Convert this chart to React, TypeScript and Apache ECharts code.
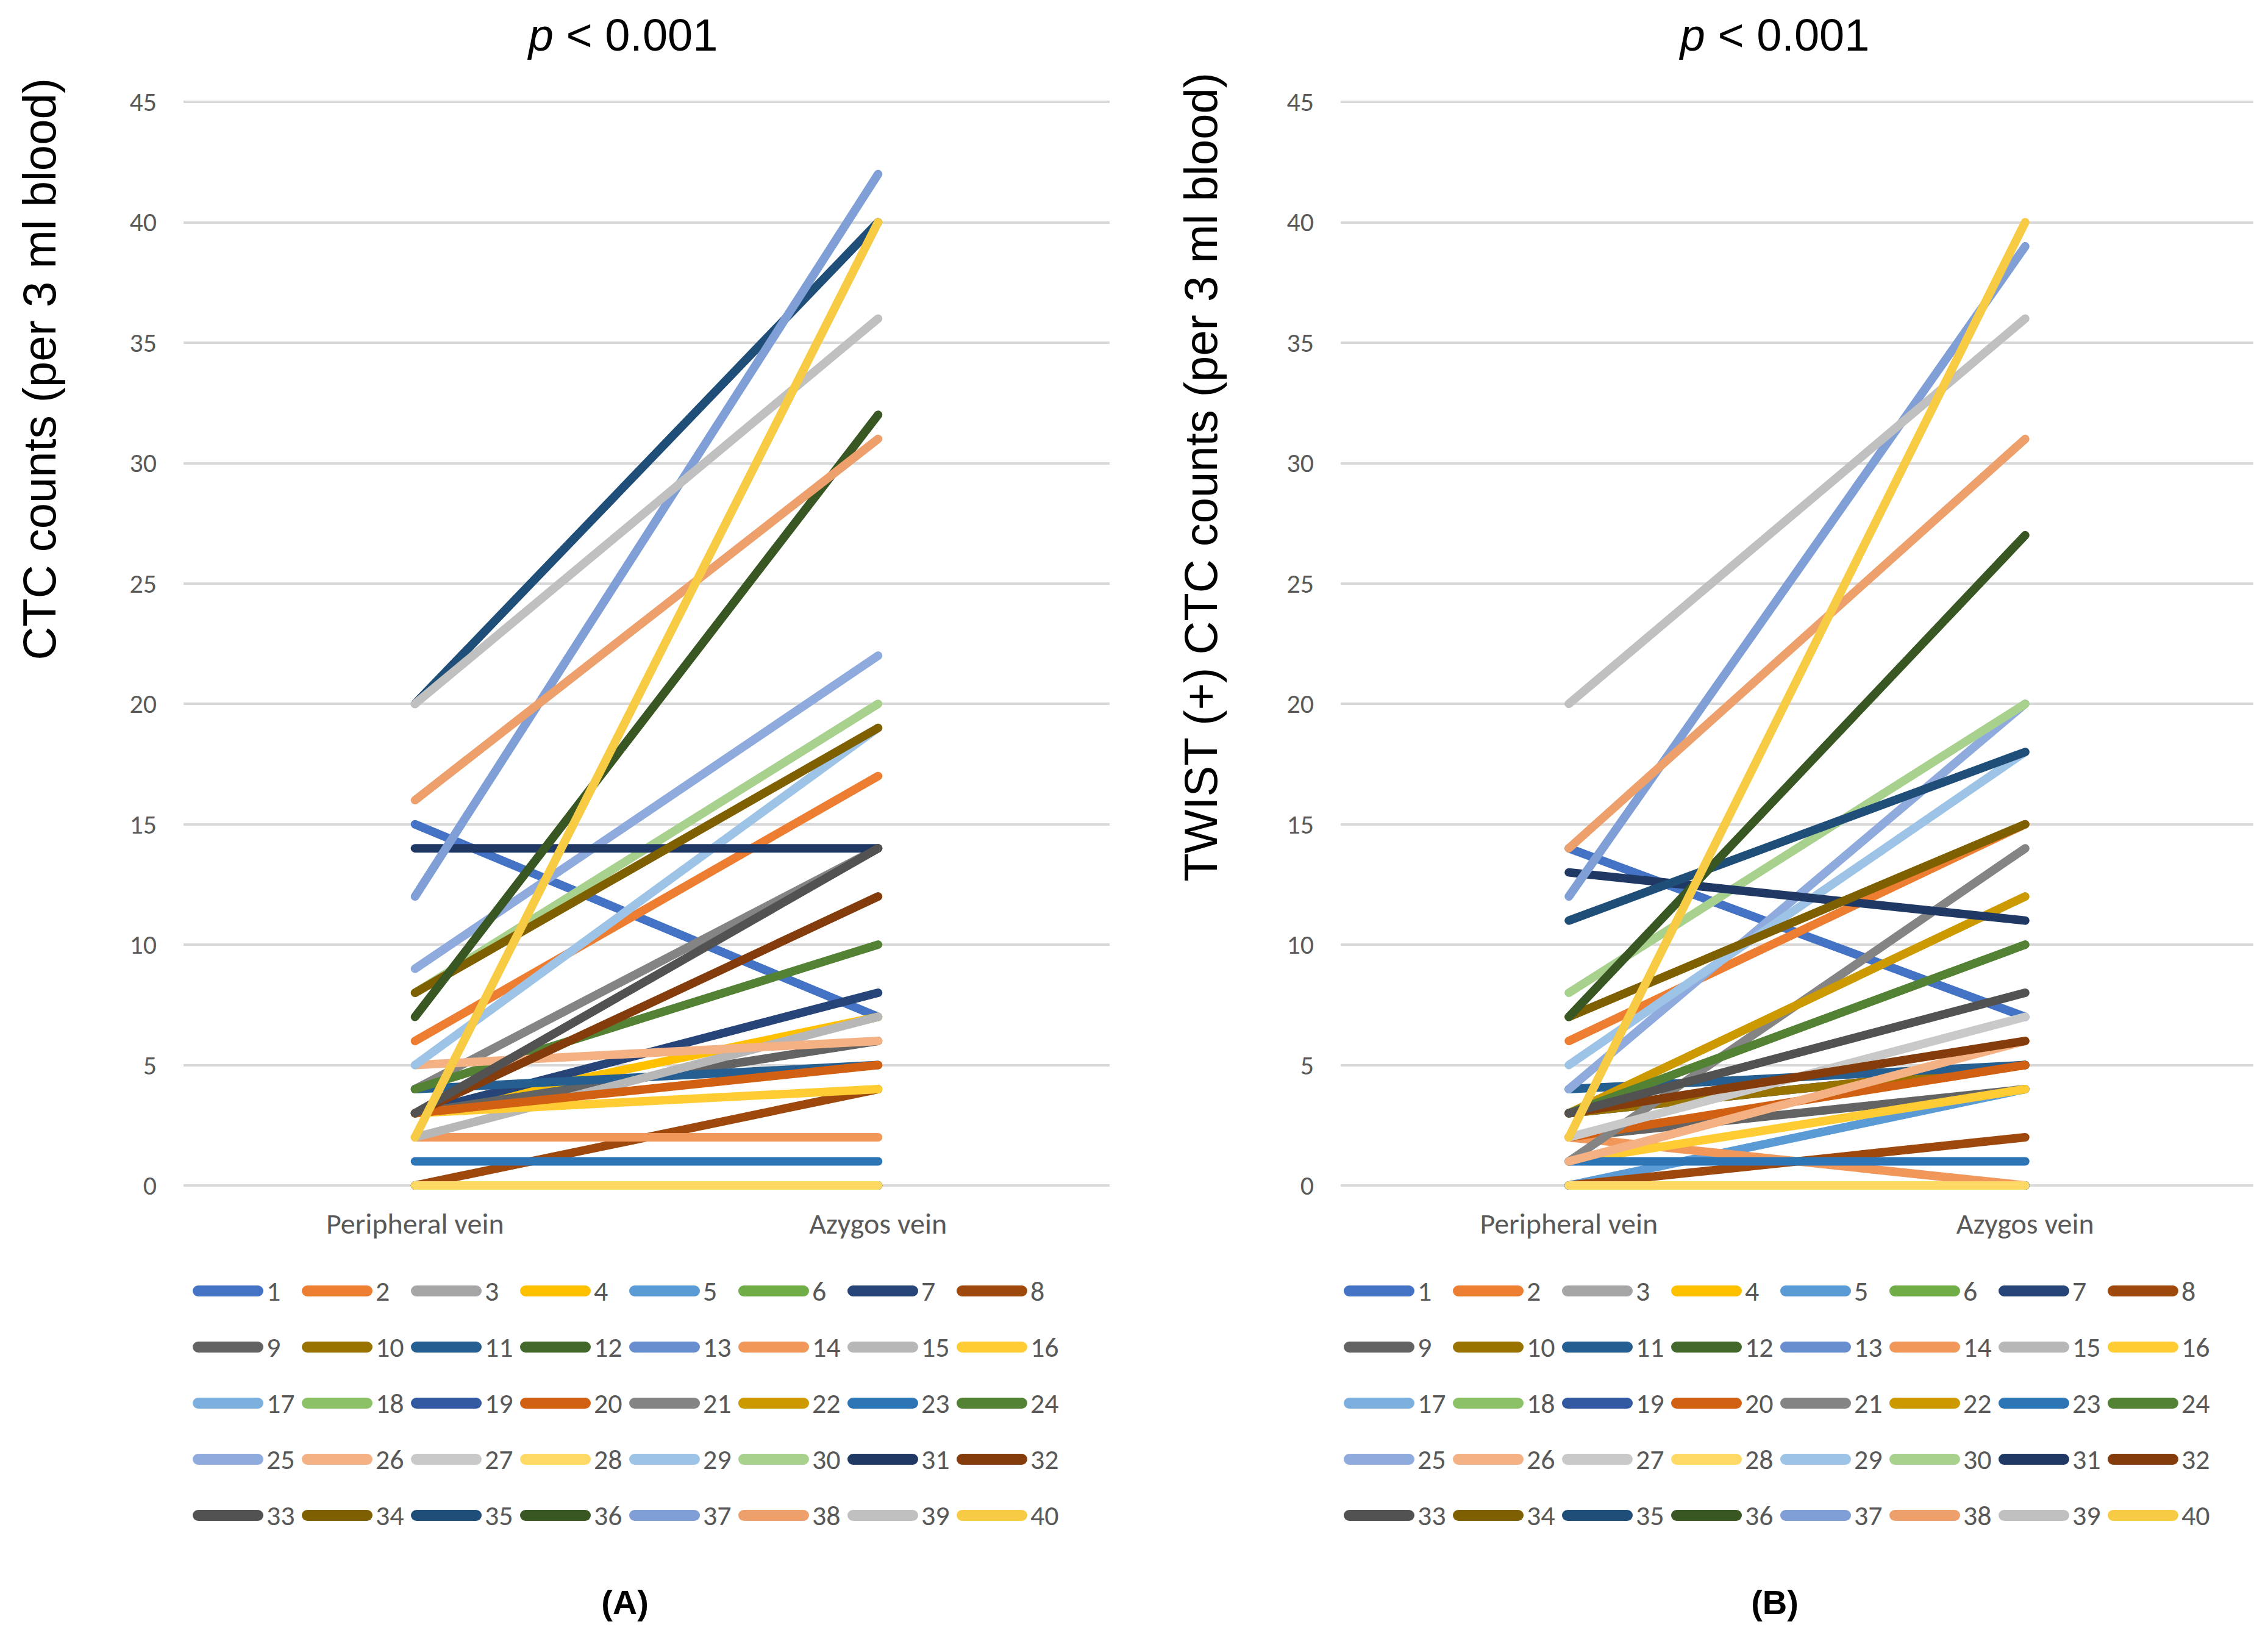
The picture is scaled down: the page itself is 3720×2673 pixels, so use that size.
import React, { useEffect, useRef } from "react";
import * as echarts from "echarts";

const CATEGORIES = ["Peripheral vein", "Azygos vein"];
const PATIENTS = ["1","2","3","4","5","6","7","8","9","10","11","12","13","14","15","16","17","18","19","20","21","22","23","24","25","26","27","28","29","30","31","32","33","34","35","36","37","38","39","40"];
const Y_TICKS = [0, 5, 10, 15, 20, 25, 30, 35, 40, 45];

// Panel A: CTC counts
const peripheralA = [15, 6, 0, 3, 0, 0, 3, 0, 3, 0, 4, 0, 0, 2, 2, 3, 0, 0, 0, 3, 4, 0, 1, 4, 9, 5, 0, 0, 5, 8, 14, 3, 3, 8, 20, 7, 12, 16, 20, 2];
const azygosA = [7, 17, 0, 7, 0, 0, 8, 4, 6, 0, 5, 0, 0, 2, 7, 4, 0, 0, 0, 5, 14, 0, 1, 10, 22, 6, 0, 0, 19, 20, 14, 12, 14, 19, 40, 32, 42, 31, 36, 40];
// Panel B: TWIST (+) CTC counts
const peripheralB = [14, 6, 0, 0, 0, 0, 3, 0, 2, 3, 4, 0, 0, 2, 0, 1, 0, 0, 0, 2, 1, 3, 1, 3, 4, 1, 2, 0, 5, 8, 13, 3, 3, 7, 11, 7, 12, 14, 20, 2];
const azygosB = [7, 15, 0, 0, 4, 0, 5, 2, 4, 5, 5, 0, 0, 0, 0, 4, 0, 0, 0, 5, 14, 12, 1, 10, 20, 6, 7, 0, 18, 20, 11, 6, 8, 15, 18, 27, 39, 31, 36, 40];

const COLORS = [
  "#4472C4", "#ED7D31", "#A5A5A5", "#FFC000", "#5B9BD5", "#70AD47",
  "#264478", "#9E480E", "#636363", "#997300", "#255E91", "#43682B",
  "#698ED0", "#F1975A", "#B7B7B7", "#FFCD33", "#7CAFDD", "#8CC168",
  "#335AA1", "#D26012", "#848484", "#CC9A00", "#2E75B6", "#548235",
  "#8FAADC", "#F4B183", "#C9C9C9", "#FFD966", "#9DC3E6", "#A9D18E",
  "#203864", "#843C0C", "#525252", "#7F6000", "#1F4E79", "#385723",
  "#7F9FD6", "#EDA06C", "#C0C0C0", "#F8CB45",
];

const TITLE_FONT = "'Liberation Sans', Arial, sans-serif";
const LABEL_FONT = "Carlito, Lato, 'Open Sans', sans-serif";

export default function App() {
  const ref = useRef<HTMLDivElement>(null);

  useEffect(() => {
    document.body.style.margin = "0";
    if (!ref.current) return;
    const chart = echarts.init(ref.current, undefined, { renderer: "svg" });

    const panels = [
      { per: peripheralA, az: azygosA, left: 301, right: 24 + 1876, legendLeft: 316, titleX: 1022, yTitleX: 64, yTitleTop: 128, yTitle: "CTC counts (per 3 ml blood)", tag: "(A)", tagX: 1025 },
      { per: peripheralB, az: azygosB, left: 2199, right: 24, legendLeft: 2204, titleX: 2911, yTitleX: 1969, yTitleTop: 119, yTitle: "TWIST (+) CTC counts (per 3 ml blood)", tag: "(B)", tagX: 2911 },
    ];

    const grid: any[] = [];
    const xAxis: any[] = [];
    const yAxis: any[] = [];
    const series: any[] = [];
    const legend: any[] = [];
    const title: any[] = [];
    const graphic: any[] = [];

    panels.forEach((p, pi) => {
      grid.push({ left: p.left, right: p.right, top: 167, bottom: 2673 - 1944, containLabel: false });
      xAxis.push({
        type: "category",
        gridIndex: pi,
        data: CATEGORIES,
        boundaryGap: true,
        axisLine: { show: false },
        axisTick: { show: false },
        axisLabel: { fontSize: 48, color: "#595959", fontFamily: LABEL_FONT, margin: 38 },
      });
      yAxis.push({
        type: "value",
        gridIndex: pi,
        min: Y_TICKS[0],
        max: Y_TICKS[Y_TICKS.length - 1],
        interval: 5,
        axisLine: { show: false },
        axisTick: { show: false },
        axisLabel: { fontSize: 44, color: "#595959", fontFamily: LABEL_FONT, margin: 44 },
        splitLine: { show: true, lineStyle: { color: "#D9D9D9", width: 4 } },
      });
      PATIENTS.forEach((name, i) => {
        series.push({
          type: "line",
          name,
          xAxisIndex: pi,
          yAxisIndex: pi,
          data: [p.per[i], p.az[i]],
          symbol: "none",
          color: COLORS[i],
          itemStyle: { color: COLORS[i] },
          lineStyle: { color: COLORS[i], width: 14, cap: "round", join: "round" },
          emphasis: { disabled: true },
          silent: true,
          z: 2,
        });
      });
      for (let r = 0; r < 5; r++) {
        legend.push({
          show: true,
          orient: "horizontal",
          left: p.legendLeft,
          top: 2117 - 24 + r * 92,
          padding: 0,
          itemWidth: 116,
          itemHeight: 18,
          itemGap: 10,
          icon: "path://M9,0 L107,0 A9,9 0 0 1 107,18 L9,18 A9,9 0 0 1 9,0 Z",
          itemStyle: { borderWidth: 0 },
          selectedMode: false,
          textStyle: { fontSize: 46, lineHeight: 48, color: "#595959", fontFamily: LABEL_FONT, width: 48, overflow: "none", padding: 0 },
          data: PATIENTS.slice(r * 8, r * 8 + 8),
        });
      }
      title.push({
        text: "{i|p} < 0.001",
        left: p.titleX,
        top: 20,
        textAlign: "center",
        padding: 0,
        textStyle: {
          fontSize: 74,
          fontWeight: "normal",
          fontFamily: TITLE_FONT,
          color: "#000000",
          rich: { i: { fontSize: 74, fontStyle: "italic", fontFamily: TITLE_FONT, color: "#000000" } },
        },
      });
      graphic.push({
        type: "text",
        x: p.yTitleX,
        y: p.yTitleTop,
        rotation: Math.PI / 2,
        silent: true,
        style: {
          text: p.yTitle,
          fontSize: 76,
          fontFamily: TITLE_FONT,
          fill: "#000000",
          textAlign: "right",
          textVerticalAlign: "middle",
        },
      });
      graphic.push({
        type: "text",
        x: p.tagX,
        y: 2627,
        silent: true,
        style: {
          text: p.tag,
          fontSize: 56,
          fontWeight: "bold",
          fontFamily: TITLE_FONT,
          fill: "#000000",
          textAlign: "center",
          textVerticalAlign: "middle",
        },
      });
    });

    chart.setOption({
      animation: false,
      backgroundColor: "#ffffff",
      title,
      grid,
      xAxis,
      yAxis,
      legend,
      series,
      graphic,
    });

    return () => chart.dispose();
  }, []);

  return <div ref={ref} style={{ width: 3720, height: 2673, position: "absolute", left: 0, top: 0 }} />;
}
